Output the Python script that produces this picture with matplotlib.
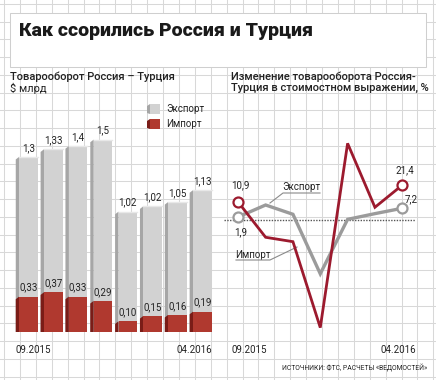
import matplotlib
matplotlib.use("Agg")
import matplotlib.pyplot as plt
import numpy as np

# Товарооборот, $ млрд
months = ["09.2015", "10.2015", "11.2015", "12.2015", "01.2016", "02.2016", "03.2016", "04.2016"]
export_bn = [1.3, 1.33, 1.4, 1.5, 1.02, 1.02, 1.05, 1.13]
import_bn = [0.33, 0.37, 0.33, 0.29, 0.10, 0.15, 0.16, 0.19]
export_lbl = ["1,3", "1,33", "1,4", "1,5", "1,02", "1,02", "1,05", "1,13"]
import_lbl = ["0,33", "0,37", "0,33", "0,29", "0,10", "0,15", "0,16", "0,19"]

# Изменение товарооборота, %
chg_months = ["09.2015", "10.2015", "11.2015", "12.2015", "01.2016", "02.2016", "03.2016"]
export_chg = [1.9, 9.2, 3.5, -33.0, 0.4, 3.9, 7.2]
import_chg = [10.9, -10.6, -13.3, -66.0, 47.0, 7.8, 21.4]

W, H = 436, 380
GRAY, GRAY_SIDE = "#d2d2d2", "#a6a6a6"
RED, RED_SIDE = "#b0392f", "#7a1c17"
LINE_RED, LINE_GRAY = "#9c1a2e", "#9b9b9b"
TXT = "#222222"
FONT = "Roboto"

fig = plt.figure(figsize=(W / 100, H / 100), dpi=100)


def px_axes(l, t, r, b):
    return fig.add_axes([l / W, 1 - b / H, (r - l) / W, (b - t) / H])


# фон - "миллиметровка"
bg = px_axes(0, 0, W, H)
bg.set_xlim(0, W)
bg.set_ylim(H, 0)
bg.axis("off")
for gx in np.arange(4, W, 15.9):
    bg.axvline(gx, color="#d8d8d8", lw=0.75, zorder=0)
for gy in np.arange(376.7, 0, -17.75):
    bg.axhline(gy, color="#d8d8d8", lw=0.75, zorder=0)
bg.add_patch(plt.Rectangle((10, 13), 416, 54, facecolor="white",
                           edgecolor="#cfcfcf", lw=0.75, zorder=1))

bg.text(19, 31, "Как ссорились Россия и Турция", fontsize=14, fontweight="black",
        family=FONT, color="#1a1a1a", va="center", ha="left", zorder=2)
bg.text(10, 77, "Товарооборот Россия – Турция", fontsize=8, family=FONT,
        fontweight="medium", color=TXT, va="center")
bg.text(10, 88, "$ млрд", fontsize=8, family=FONT, color=TXT, va="center")
bg.text(231, 77, "Изменение товарооборота Россия-", fontsize=8, family=FONT,
        fontweight="medium", color=TXT, va="center")
bg.text(231, 88, "Турция в стоимостном выражении, %", fontsize=8, family=FONT,
        fontweight="medium", color=TXT, va="center")
bg.text(427, 368, "ИСТОЧНИКИ: ФТС, РАСЧЕТЫ «ВЕДОМОСТЕЙ»", fontsize=4.9,
        family=FONT, color=TXT, va="center", ha="right")

# легенда столбиков
for ly, col, side, name in [(109, GRAY, GRAY_SIDE, "Экспорт"), (124, RED, RED_SIDE, "Импорт")]:
    bg.add_patch(plt.Polygon([(150, ly - 5), (150, ly + 5), (147, ly + 4), (147, ly - 3)],
                             facecolor=side, edgecolor="none", zorder=3))
    bg.add_patch(plt.Rectangle((150, ly - 5), 10, 10, facecolor=col, edgecolor="none", zorder=3))
    bg.text(166, ly, name, fontsize=7, family=FONT, color=TXT, va="center", zorder=3)

# столбики
ax1 = px_axes(10, 100, 220, 332)
ax1.set_facecolor("none")
ax1.set_xlim(-0.744, 7.71)
ax1.set_ylim(0, 232 / 107.5)
ax1.axis("off")

x = np.arange(len(months))
w = 0.75
d = 0.137
dy = 0.025
total = np.array(export_bn) + np.array(import_bn)
ax1.bar(x, import_bn, width=w, color=RED, zorder=3)
ax1.bar(x, export_bn, bottom=import_bn, width=w, color=GRAY, zorder=3)
for i in range(len(x)):
    x0 = x[i] - w / 2
    ax1.fill([x0, x0, x0 - d, x0 - d], [0, total[i], total[i] - dy, 0],
             color=GRAY_SIDE, lw=0, zorder=2)
    ax1.fill([x0, x0, x0 - d, x0 - d], [0, import_bn[i], import_bn[i] - dy, 0],
             color=RED_SIDE, lw=0, zorder=2)
    ax1.plot([x0, x[i] + w / 2], [total[i], total[i]], color="#e8e8e8", lw=1, zorder=4)
    ax1.annotate(export_lbl[i], (x[i], total[i]), xytext=(0, 9), textcoords="offset pixels",
                 ha="center", va="center", fontsize=7, family=FONT, color=TXT)
    ax1.annotate(import_lbl[i], (x[i], import_bn[i]), xytext=(0, 9), textcoords="offset pixels",
                 ha="center", va="center", fontsize=7, family=FONT, color=TXT, zorder=5)
ax1.annotate(months[0], (x[0] - w / 2 - d, 0), xytext=(0, -18), textcoords="offset pixels",
             ha="left", va="center", fontsize=7, family=FONT, color=TXT)
ax1.annotate(months[-1], (x[-1] + w / 2, 0), xytext=(0, -18), textcoords="offset pixels",
             ha="right", va="center", fontsize=7, family=FONT, color=TXT)

# линии
ax2 = px_axes(222, 100, 430, 340)
ax2.set_facecolor("none")
ax2.set_xlim(-0.596, 7.015)
ax2.set_ylim(-73.6, 73.6)
ax2.axis("off")
xc = np.arange(len(chg_months))
ax2.plot([-0.52, 6.45], [0, 0], color="#555555", lw=1, ls=(0, (1, 1)), zorder=1)
ax2.plot(xc, export_chg, color=LINE_GRAY, lw=2.4, zorder=2, solid_joinstyle="miter")
ax2.plot(xc, import_chg, color=LINE_RED, lw=2.0, zorder=3, solid_joinstyle="miter")
for ser, col in [(export_chg, LINE_GRAY), (import_chg, LINE_RED)]:
    ax2.plot([xc[0], xc[-1]], [ser[0], ser[-1]], ls="none", marker="o", ms=7.2,
             mfc="white", mec=col, mew=1.6, zorder=4)

lbl_kw = dict(textcoords="offset pixels", ha="center", va="center",
              fontsize=7, family=FONT, color=TXT)
ax2.annotate("10,9", (xc[0], import_chg[0]), xytext=(2, 17), **lbl_kw)
ax2.annotate("1,9", (xc[0], export_chg[0]), xytext=(2, -15), **lbl_kw)
ax2.annotate("21,4", (xc[-1], import_chg[-1]), xytext=(3, 15), **lbl_kw)
ax2.annotate("7,2", (xc[-1], export_chg[-1]), xytext=(9, 9), **lbl_kw)
ax2.annotate(chg_months[0], (xc[0], 0), xytext=(-7, -130), textcoords="offset pixels",
             ha="left", va="center", fontsize=7, family=FONT, color=TXT)
ax2.annotate(months[-1], (xc[-1], 0), xytext=(14, -130), textcoords="offset pixels",
             ha="right", va="center", fontsize=7, family=FONT, color=TXT)

# подписи линий с выносками
bg.text(301, 187, "Экспорт", fontsize=7, family=FONT, color=TXT, ha="center", va="center", zorder=5)
bg.plot([320, 283, 270], [193, 193, 203], color="#8a8a8a", lw=0.8, zorder=5)
bg.text(253, 255, "Импорт", fontsize=7, family=FONT, color=TXT, ha="center", va="center", zorder=5)
bg.plot([236, 270, 297], [260, 260, 247], color="#8a8a8a", lw=0.8, zorder=5)

fig.savefig("out.png", dpi=100)
